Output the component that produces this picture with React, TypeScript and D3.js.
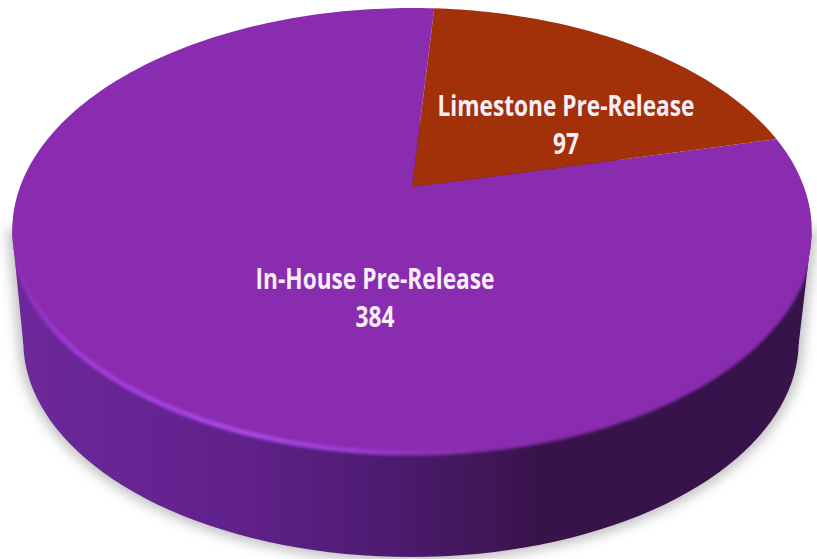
import React from "react";
import * as d3 from "d3";

const categories = ["Limestone Pre-Release", "In-House Pre-Release"];
const values = [97, 384];
const sliceColors = ["#a23009", "#892caf"];
const labelAnchors = [
  { x: 566, y: 116 },
  { x: 375, y: 289 },
];

const W = 817;
const H = 559;

// Disc lying flat and seen in perspective: the far rim is compressed, the near rim stretched.
const view = { cx: 412, cy: 187, a: 392, b: 214, k: 0.1955 };
const wall = { dx: -1, dy: 112, scale: 0.97 };

function project(angle: number, radius = 1) {
  const u = Math.sin(angle) * radius;
  const v = Math.cos(angle) * radius;
  const w = 1 + view.k * v;
  return [view.cx + (view.a * u) / w, view.cy - (view.b * v) / w] as [number, number];
}

function projectBase(angle: number) {
  const [x, y] = project(angle);
  return [
    view.cx + wall.dx + (x - view.cx) * wall.scale,
    view.cy + wall.dy + (y - view.cy) * wall.scale,
  ] as [number, number];
}

const turn = d3.range(0, 361, 2).map((d) => (d * Math.PI) / 180);
const ring = d3.line().curve(d3.curveLinearClosed);
const rimPath = ring(turn.map((t) => project(t))) as string;
const basePath = ring(turn.map((t) => projectBase(t))) as string;

// Side wall silhouette: the two discs joined through their outermost points.
const leftPoint = d3.least(turn, (t) => project(t)[0]) as number;
const rightPoint = d3.greatest(turn, (t) => project(t)[0]) as number;
const sideBand = d3
  .line()
  .curve(d3.curveLinearClosed)([
    project(leftPoint),
    projectBase(leftPoint),
    projectBase(rightPoint),
    project(rightPoint),
  ] as [number, number][]) as string;

const startAngle = (3.9 * Math.PI) / 180;
const arcs = d3
  .pie<number>()
  .sort(null)
  .startAngle(startAngle)
  .endAngle(startAngle + 2 * Math.PI)(values);

function slicePath(a0: number, a1: number) {
  const n = Math.ceil((a1 - a0) / 0.02);
  const pts = d3.range(n + 1).map((i) => project(a0 + ((a1 - a0) * i) / n));
  return d3.line().curve(d3.curveLinearClosed)([[view.cx, view.cy], ...pts]) as string;
}

const frontArc = d3.line()(
  d3.range(104, 262, 2).map((d) => project((d * Math.PI) / 180))
) as string;

export default function App() {
  return (
    <svg
      width={W}
      height={H}
      viewBox={`0 0 ${W} ${H}`}
      style={{ position: "absolute", left: 0, top: 0, background: "#fff" }}
    >
      <defs>
        <linearGradient id="wallFill" gradientUnits="userSpaceOnUse" x1={0} x2={W} y1={0} y2={0}>
          <stop offset="0" stopColor="#6e289c" />
          <stop offset="0.3" stopColor="#60218a" />
          <stop offset="0.5" stopColor="#4b1a6c" />
          <stop offset="0.66" stopColor="#38134a" />
          <stop offset="1" stopColor="#36134a" />
        </linearGradient>
        <linearGradient id="rimGlow" gradientUnits="userSpaceOnUse" x1={0} x2={W} y1={0} y2={0}>
          <stop offset="0.02" stopColor="#8a2db2" />
          <stop offset="0.08" stopColor="#a038d8" />
          <stop offset="0.3" stopColor="#ab48ea" />
          <stop offset="0.45" stopColor="#9a3ad0" />
          <stop offset="0.58" stopColor="#892caf" />
          <stop offset="1" stopColor="#892caf" />
        </linearGradient>
        <filter id="soft" x="-10%" y="-10%" width="120%" height="120%">
          <feGaussianBlur stdDeviation="6" />
        </filter>
        <filter id="edge" x="-10%" y="-10%" width="120%" height="120%">
          <feGaussianBlur stdDeviation="1.6" />
        </filter>
        <clipPath id="bodyClip">
          <path d={rimPath} />
          <path d={basePath} />
          <path d={sideBand} />
        </clipPath>
      </defs>

      <g filter="url(#soft)" fill="#c2c2c2" stroke="#c2c2c2" strokeWidth={10}>
        <path d={basePath} />
        <path d={sideBand} />
      </g>

      <path d={basePath} fill="url(#wallFill)" />
      <path d={sideBand} fill="url(#wallFill)" />

      {arcs
        .slice()
        .reverse()
        .map((d) => (
          <path key={d.index} d={slicePath(d.startAngle, d.endAngle)} fill={sliceColors[d.index]} />
        ))}

      <g clipPath="url(#bodyClip)">
        <path d={frontArc} fill="none" stroke="url(#rimGlow)" strokeWidth={5} filter="url(#edge)" />
      </g>

      {arcs.map((d) => {
        const at = labelAnchors[d.index];
        return (
          <g key={d.index} transform={`translate(${at.x},${at.y}) scale(0.81,1)`}>
            <text
              textAnchor="middle"
              fill="#f8eef8"
              fontFamily="'Open Sans', sans-serif"
              fontWeight={700}
              fontSize={28}
            >
              <tspan x={0}>{categories[d.index]}</tspan>
              <tspan x={0} dy={38}>
                {d.value}
              </tspan>
            </text>
          </g>
        );
      })}
    </svg>
  );
}
